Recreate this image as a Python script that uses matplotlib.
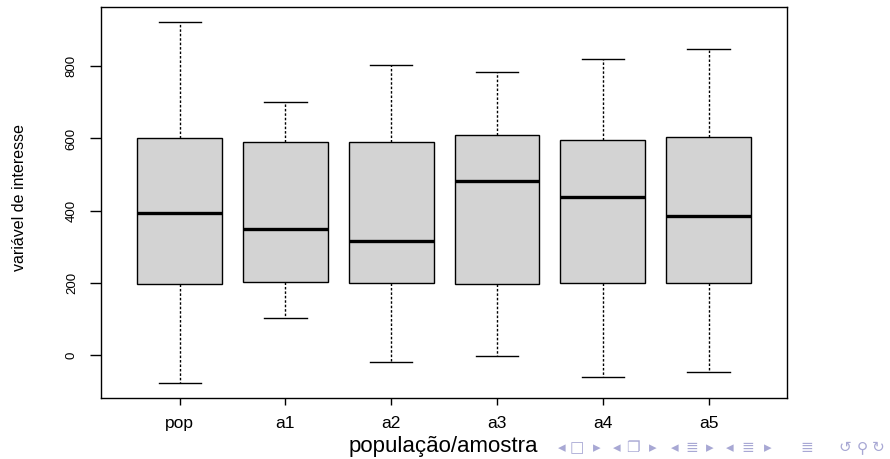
import numpy as np
import matplotlib
matplotlib.use('Agg')
import matplotlib.pyplot as plt

plt.rcParams['font.family'] = ['Liberation Sans', 'DejaVu Sans']

labels = ['pop', 'a1', 'a2', 'a3', 'a4', 'a5']
whisk_low = [-78, 103, -18, -2, -60, -45]
q1 = [198, 202, 200, 196, 200, 200]
median = [393, 349, 316, 481, 438, 385]
q3 = [600, 590, 590, 609, 596, 604]
whisk_high = [921, 700, 804, 784, 820, 847]

stats = []
for i in range(len(labels)):
    stats.append({'label': labels[i], 'whislo': whisk_low[i], 'q1': q1[i],
                  'med': median[i], 'q3': q3[i], 'whishi': whisk_high[i],
                  'fliers': []})

fig = plt.figure(figsize=(8.9, 4.59), dpi=100)
ax = fig.add_axes([0.114, 0.133, 0.770, 0.852])

ax.bxp(stats, positions=np.arange(1, 7), widths=0.8, capwidths=0.4,
       patch_artist=True, showfliers=False,
       boxprops=dict(facecolor='#d3d3d3', edgecolor='black', linewidth=1),
       medianprops=dict(color='black', linewidth=2.4),
       whiskerprops=dict(color='black', linewidth=1, linestyle=(0, (1.8, 1.4))),
       capprops=dict(color='black', linewidth=1))

ax.set_xlim(0.26, 6.74)
ax.set_ylim(-118, 964)
ax.set_yticks([0, 200, 400, 600, 800])
ax.set_xticks(np.arange(1, 7))
ax.set_xticklabels(labels)
ax.tick_params(axis='x', length=5, width=1, pad=8, labelsize=12.5)
ax.tick_params(axis='y', length=8, width=1, pad=9, labelsize=9.5, labelrotation=90)
for t in ax.get_yticklabels():
    t.set_va('center')
for s in ax.spines.values():
    s.set_linewidth(1)
    s.set_color('black')

fig.text(0.022, 0.569, 'variável de interesse', rotation=90, ha='center',
         va='center', fontsize=11.5)
fig.text(0.498, 0.027, 'população/amostra', ha='center', va='center', fontsize=16)

# beamer navigation symbols
nav = ['◂', '□', '▸', '◂', '❐', '▸', '◂', '≣', '▸', '◂', '≣', '▸', '≣', '↺', '⚲', '↻']
nav_x = [562, 577, 597, 617, 633, 653, 675, 692, 710, 730, 748, 768, 807, 845, 862, 878]
for g, xp in zip(nav, nav_x):
    fig.text(xp / 890, 0.025, g, ha='center', va='center', fontsize=11,
             color='#a8a8d4', family=['DejaVu Sans'])

fig.savefig('out.png', dpi=100)
